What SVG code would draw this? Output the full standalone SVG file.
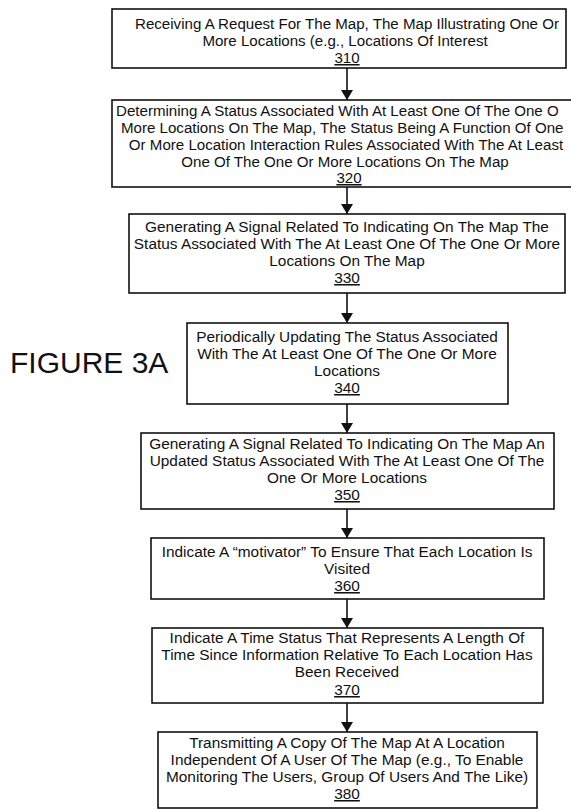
<svg xmlns="http://www.w3.org/2000/svg" width="571" height="810" viewBox="0 0 571 810">
<defs>
<style>
.box{fill:#fff;stroke:#111;stroke-width:1.6}
.t{font-family:"Liberation Sans",Arial,sans-serif;font-size:15.4px;fill:#111;text-anchor:middle}
.s{font-size:15.1px}
.ts{font-family:"Liberation Sans",Arial,sans-serif;font-size:15.1px;fill:#111;text-anchor:start}
.n{text-decoration:underline}
.fig{font-family:"Liberation Sans",Arial,sans-serif;font-size:30px;fill:#111}
.c{stroke:#111;stroke-width:1.6;fill:none}
</style>
<marker id="ah" viewBox="0 0 10 12" refX="10" refY="6" markerWidth="10" markerHeight="12" markerUnits="userSpaceOnUse" orient="auto">
<path d="M0,0 L10,6 L0,12 Z" fill="#111"/>
</marker>
</defs>
<rect width="571" height="810" fill="#fff"/>
<text class="fig" x="10" y="373">FIGURE 3A</text>
<g id="connectors">
<line class="c" x1="347" y1="68" x2="347" y2="100" marker-end="url(#ah)"/>
<line class="c" x1="347" y1="187" x2="347" y2="214" marker-end="url(#ah)"/>
<line class="c" x1="347" y1="293" x2="347" y2="323" marker-end="url(#ah)"/>
<line class="c" x1="347" y1="404" x2="347" y2="433" marker-end="url(#ah)"/>
<line class="c" x1="347" y1="509" x2="347" y2="538" marker-end="url(#ah)"/>
<line class="c" x1="347" y1="599" x2="347" y2="628" marker-end="url(#ah)"/>
<line class="c" x1="347" y1="703" x2="347" y2="732" marker-end="url(#ah)"/>
</g>
<g id="n310">
<rect class="box" x="112" y="9" width="454" height="59"/>
<text class="t s" x="347" y="29">Receiving A Request For The Map, The Map Illustrating One Or</text>
<text class="t s" x="345" y="46">More Locations (e.g., Locations Of Interest</text>
<text class="t s n" x="347" y="63">310</text>
</g>
<g id="n320">
<rect class="box" x="112" y="100" width="470" height="87"/>
<text class="ts" x="116" y="116">Determining A Status Associated With At Least One Of The One O</text>
<text class="ts" x="121" y="133">More Locations On The Map, The Status Being A Function Of One</text>
<text class="t s" x="346" y="150">Or More Location Interaction Rules Associated With The At Least</text>
<text class="t s" x="345" y="167">One Of The One Or More Locations On The Map</text>
<text class="t s n" x="349" y="183">320</text>
</g>
<g id="n330">
<rect class="box" x="129" y="214" width="436" height="79"/>
<text class="t" x="347" y="232">Generating A Signal Related To Indicating On The Map The</text>
<text class="t" x="347" y="249">Status Associated With The At Least One Of The One Or More</text>
<text class="t" x="347" y="266">Locations On The Map</text>
<text class="t n" x="347" y="283">330</text>
</g>
<g id="n340">
<rect class="box" x="187" y="323" width="321" height="81"/>
<text class="t" x="347" y="342">Periodically Updating The Status Associated</text>
<text class="t" x="347" y="359">With The At Least One Of The One Or More</text>
<text class="t" x="347" y="376">Locations</text>
<text class="t n" x="347" y="393">340</text>
</g>
<g id="n350">
<rect class="box" x="141" y="433" width="413" height="76"/>
<text class="t" x="347" y="449">Generating A Signal Related To Indicating On The Map An</text>
<text class="t" x="347" y="466">Updated Status Associated With The At Least One Of The</text>
<text class="t" x="347" y="483">One Or More Locations</text>
<text class="t n" x="347" y="500">350</text>
</g>
<g id="n360">
<rect class="box" x="151" y="538" width="393" height="61"/>
<text class="t" x="347" y="557">Indicate A “motivator” To Ensure That Each Location Is</text>
<text class="t" x="347" y="574">Visited</text>
<text class="t n" x="347" y="591">360</text>
</g>
<g id="n370">
<rect class="box" x="152" y="628" width="391" height="75"/>
<text class="t" x="347" y="643">Indicate A Time Status That Represents A Length Of</text>
<text class="t" x="347" y="660">Time Since Information Relative To Each Location Has</text>
<text class="t" x="347" y="677">Been Received</text>
<text class="t n" x="347" y="695">370</text>
</g>
<g id="n380">
<rect class="box" x="158" y="732" width="379" height="76"/>
<text class="t" x="347" y="748">Transmitting A Copy Of The Map At A Location</text>
<text class="t" x="347" y="765">Independent Of A User Of The Map (e.g., To Enable</text>
<text class="t" x="347" y="782">Monitoring The Users, Group Of Users And The Like)</text>
<text class="t n" x="347" y="799">380</text>
</g>
</svg>
